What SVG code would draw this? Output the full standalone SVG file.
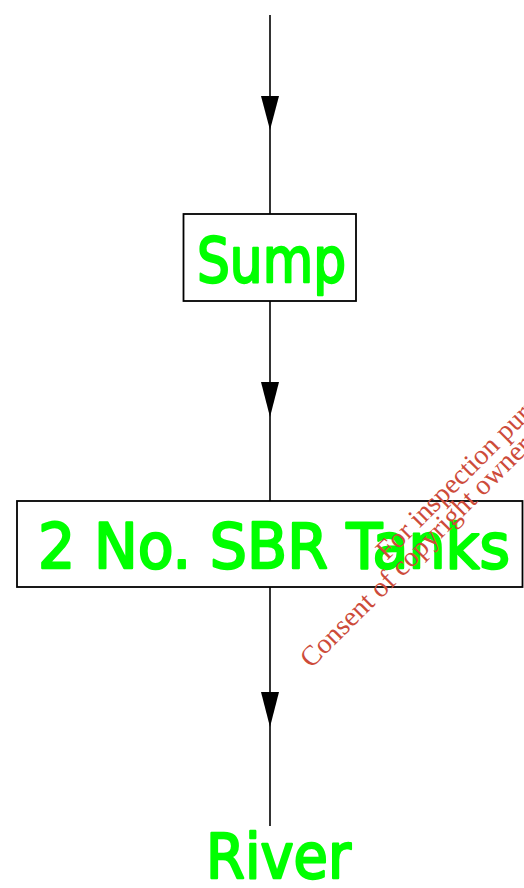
<svg xmlns="http://www.w3.org/2000/svg" width="524" height="888" viewBox="0 0 524 888">
  <style>
    .box { fill: #ffffff; stroke: #000000; stroke-width: 1.8; }
    .flow { stroke: #000000; stroke-width: 1.6; fill: none; }
    .head { fill: #000000; stroke: none; }
    .label { font-family: "DejaVu Sans", "Liberation Sans", sans-serif; font-size: 62px; fill: #00ff00; stroke: #00ff00; stroke-width: 2.4; stroke-linejoin: round; stroke-linecap: round; }
    .stamp { font-family: "Liberation Serif", "DejaVu Serif", serif; font-size: 28px; fill: #cd4b3a; }
  </style>
  <rect width="524" height="888" fill="#ffffff"/>

  <!-- flow lines with arrowheads between stages -->
  <g id="connectors">
    <line class="flow" x1="270" y1="15" x2="270" y2="214"/>
    <polygon class="head" points="261,96 279,96 270,130"/>
    <line class="flow" x1="270" y1="301" x2="270" y2="501"/>
    <polygon class="head" points="261,382 279,382 270,417"/>
    <line class="flow" x1="270" y1="587" x2="270" y2="826"/>
    <polygon class="head" points="261,692 279,692 270,727"/>
  </g>

  <g id="sump">
    <rect class="box" x="183.5" y="214" width="172.5" height="87"/>
    <text class="label" x="197" y="282" textLength="149" lengthAdjust="spacingAndGlyphs">Sump</text>
  </g>

  <g id="sbr-tanks">
    <rect class="box" x="17" y="501" width="505.5" height="86"/>
    <text class="label" x="38" y="568" textLength="472" lengthAdjust="spacingAndGlyphs">2 No. SBR Tanks</text>
  </g>

  <g id="river">
    <text class="label" x="206" y="878" textLength="145" lengthAdjust="spacingAndGlyphs">River</text>
  </g>

  <!-- diagonal consent stamp -->
  <g id="stamp">
    <text class="stamp" transform="translate(387,561) rotate(-45)">For inspection purposes only.</text>
    <text class="stamp" transform="translate(311,669) rotate(-45)">Consent of copyright owner required for any other use.</text>
  </g>
</svg>
